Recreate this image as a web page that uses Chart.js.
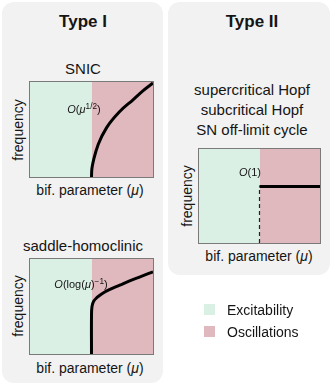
<!DOCTYPE html>
<html>
<head>
<meta charset="utf-8">
<script src="https://cdn.jsdelivr.net/npm/chart.js@4.4.1/dist/chart.umd.min.js"></script>
<style>
  body { margin: 0; width: 332px; height: 387px; position: relative; background: #fff;
         font-family: "Liberation Sans", Arial, sans-serif; color: #151515; overflow: hidden; }
  .panel { position: absolute; background: #f2f2f2; border-radius: 12px; }
  .t { position: absolute; white-space: nowrap; line-height: 1; transform: translate(-50%, -50%); }
  .plot { position: absolute; }
  .sw { position: absolute; width: 11px; height: 11px; }
  sup { font-size: 0.75em; vertical-align: 0.45em; line-height: 0; }
</style>
</head>
<body>
<div class="panel" style="left:2px;top:2px;width:161px;height:381px"></div>
<div class="panel" style="left:168px;top:2px;width:162px;height:273px"></div>

<div class="plot" style="left:26px;top:78px;width:131px;height:103px"><canvas id="snic"></canvas></div>
<div class="plot" style="left:26px;top:255px;width:131px;height:103px"><canvas id="homo"></canvas></div>
<div class="plot" style="left:195px;top:145px;width:129px;height:102px"><canvas id="hopf"></canvas></div>

<div id="labels"></div>

<script>
// colours of the two regimes
const excitColor = "#dbf0e4";
const oscColor = "#dfb9bd";

// region extents (bif. parameter axis goes -1 .. 1, bifurcation at 0)
const excitX = [-1, 0];
const oscX = [0, 1];

// SNIC branch, frequency ~ mu^(1/2)
const snicX = [0, 0.003, 0.012, 0.038, 0.11, 0.246, 0.46, 0.67, 0.84, 1.0];
const snicY = [0, 0.06, 0.11, 0.19, 0.345, 0.52, 0.69, 0.81, 0.91, 0.99];

// saddle-homoclinic branch, frequency ~ 1/log(mu)
const homoX = [0, 0, 0.008, 0.035, 0.09, 0.17, 0.3, 0.46, 0.62, 0.8, 1.0];
const homoY = [0, 0.4, 0.5, 0.555, 0.595, 0.635, 0.68, 0.725, 0.77, 0.815, 0.865];

// Hopf-type: jumps to finite frequency O(1)
const hopfX = [0, 1];
const hopfY = [0.6, 0.6];
const jumpX = [0, 0];
const jumpY = [0, 0.6];

function pts(xs, ys) {
  return xs.map((x, i) => ({ x: x, y: ys[i] }));
}

function regionSets() {
  return [
    {
      data: pts(excitX, [1, 1]),
      borderWidth: 0,
      pointRadius: 0,
      backgroundColor: excitColor,
      fill: "start",
      order: 10,
    },
    {
      data: pts(oscX, [1, 1]),
      borderWidth: 0,
      pointRadius: 0,
      backgroundColor: oscColor,
      fill: "start",
      order: 10,
    },
  ];
}

// draws the grey frame around the plot area
const framePlugin = {
  id: "frame",
  afterDraw(chart) {
    const a = chart.chartArea;
    const ctx = chart.ctx;
    ctx.save();
    ctx.strokeStyle = "#7a7a7a";
    ctx.lineWidth = 1;
    ctx.strokeRect(Math.round(a.left) - 0.5, Math.round(a.top) - 0.5,
      Math.round(a.right - a.left) + 1, Math.round(a.bottom - a.top) + 1);
    ctx.restore();
  },
};

function makeChart(id, lines) {
  const ctx = document.getElementById(id).getContext("2d");
  return new Chart(ctx, {
    type: "line",
    data: { datasets: regionSets().concat(lines) },
    options: {
      responsive: true,
      maintainAspectRatio: false,
      animation: false,
      layout: { padding: 4 },
      scales: {
        x: { type: "linear", min: -1, max: 1, display: false },
        y: { type: "linear", min: 0, max: 1, display: false },
      },
      plugins: { legend: { display: false }, tooltip: { enabled: false } },
    },
    plugins: [framePlugin],
  });
}

function curve(xs, ys, monotone) {
  return {
    data: pts(xs, ys),
    borderColor: "#000",
    borderWidth: 3,
    pointRadius: 0,
    cubicInterpolationMode: monotone ? "monotone" : "default",
    tension: 0.4,
    fill: false,
    clip: false,
    order: 0,
  };
}

makeChart("snic", [curve(snicX, snicY, true)]);
makeChart("homo", [curve(homoX, homoY, false)]);
makeChart("hopf", [
  {
    data: pts(jumpX, jumpY),
    borderColor: "#222",
    borderWidth: 1.2,
    borderDash: [4, 3],
    pointRadius: 0,
    fill: false,
    order: 1,
  },
  {
    data: pts(hopfX, hopfY),
    borderColor: "#000",
    borderWidth: 3,
    pointRadius: 0,
    fill: false,
    clip: false,
    order: 0,
  },
]);

// text labels
const mu = '(<i>μ</i>)';
const labels = [
  { html: "Type I", x: 83, y: 21, size: 17, bold: true },
  { html: "Type II", x: 252, y: 21, size: 17, bold: true },
  { html: "SNIC", x: 83, y: 68, size: 15 },
  { html: "saddle-homoclinic", x: 83, y: 245, size: 15 },
  { html: "supercritical Hopf", x: 252, y: 89, size: 15 },
  { html: "subcritical Hopf", x: 252, y: 109, size: 15 },
  { html: "SN off-limit cycle", x: 252, y: 129, size: 15 },
  { html: "bif. parameter " + mu, x: 90, y: 190, size: 14 },
  { html: "bif. parameter " + mu, x: 90, y: 368, size: 14 },
  { html: "bif. parameter " + mu, x: 259, y: 256, size: 14 },
  { html: "frequency", x: 18, y: 130, size: 14, rot: true },
  { html: "frequency", x: 18, y: 306, size: 14, rot: true },
  { html: "frequency", x: 187, y: 196, size: 14, rot: true },
  { html: "<i>O</i>(<i>μ</i><sup>1/2</sup>)", x: 84, y: 109, size: 11 },
  { html: "<i>O</i>(log(<i>μ</i>)<sup>−1</sup>)", x: 81, y: 284, size: 11 },
  { html: "<i>O</i>(1)", x: 250, y: 172, size: 11 },
  { html: "Excitability", x: 227, y: 310, size: 14, left: true },
  { html: "Oscillations", x: 227, y: 332, size: 14, left: true },
];

const box = document.getElementById("labels");
labels.forEach((l) => {
  const d = document.createElement("div");
  d.className = "t";
  d.innerHTML = l.html;
  d.style.left = l.x + "px";
  d.style.top = l.y + "px";
  d.style.fontSize = l.size + "px";
  if (l.bold) d.style.fontWeight = "bold";
  if (l.rot) d.style.transform = "translate(-50%, -50%) rotate(-90deg)";
  if (l.left) d.style.transform = "translate(0, -50%)";
  box.appendChild(d);
});

const sw1 = document.createElement("div");
sw1.className = "sw";
sw1.style.cssText = "left:204px;top:304px;background:" + excitColor;
box.appendChild(sw1);
const sw2 = document.createElement("div");
sw2.className = "sw";
sw2.style.cssText = "left:204px;top:326px;background:" + oscColor;
box.appendChild(sw2);
</script>
</body>
</html>
